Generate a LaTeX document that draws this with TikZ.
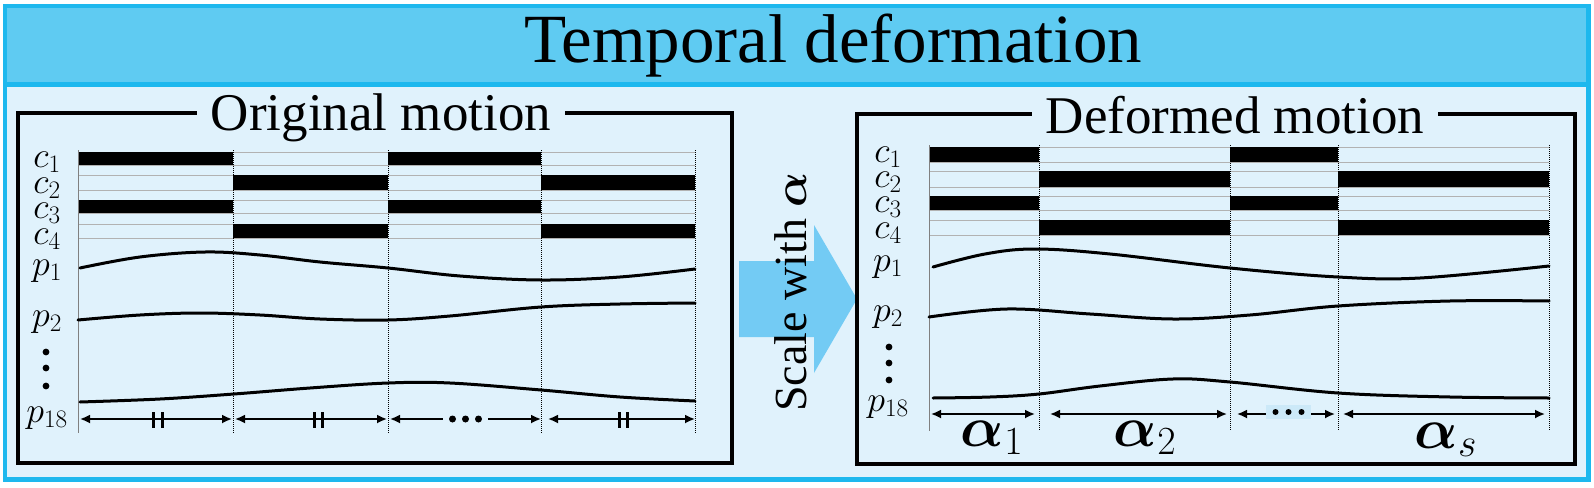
\RequirePackage{fix-cm}
\documentclass[tikz,border=0pt]{standalone}
\usepackage{amsmath,bm}
\usepackage[no-math]{fontspec}
\setmainfont{Liberation Serif}
\usetikzlibrary{arrows.meta}
\definecolor{borderc}{HTML}{1DB8EE}
\definecolor{titlec}{HTML}{5FCBF2}
\definecolor{bodyc}{HTML}{E0F2FC}
\definecolor{arrowc}{HTML}{73CBF4}
\definecolor{dotboxc}{HTML}{CCE9F8}
\begin{document}
\begin{tikzpicture}[x=1pt,y=-1pt,
  gridline/.style={draw=black!30, line width=0.6pt},
  firstline/.style={draw=black!50, line width=0.7pt},
  sepline/.style={draw=black, line width=1pt, dash pattern=on 1pt off 1pt},
  curve/.style={line width=3pt, line cap=round},
  dimline/.style={{Latex[length=10pt,width=9pt]}-{Latex[length=10pt,width=9pt]}, line width=1.8pt},
  tickmark/.style={line width=3pt},
  lab/.style={font=\fontsize{36}{36}\selectfont, anchor=base, inner sep=0pt},
  paneltitle/.style={fill=bodyc, inner xsep=14pt, inner ysep=2pt, font=\fontsize{53}{53}\selectfont, anchor=base},
  alab/.style={font=\fontsize{57}{57}\selectfont, anchor=base, inner sep=0pt},
  panel/.style={draw=black, line width=3.5pt}
]
\path[use as bounding box] (0,0) rectangle (1594,487);
\fill[white] (0,0) rectangle (1594,487);
% frame
\fill[bodyc] (5,6) rectangle (1588.5,479.5);
\fill[titlec] (5,6) rectangle (1588.5,84.5);
\draw[borderc, line width=5pt] (5,84.5) -- (1588.5,84.5);
\draw[borderc, line width=4.5pt] (5,6) rectangle (1588.5,479.5);
\node[font=\fontsize{69}{69}\selectfont, anchor=base, inner sep=0pt] (title) at (833,63) {Temporal deformation};

% ---------------- left panel
\draw[panel] (18,113) rectangle (732,463);
\node[paneltitle] (ltitle) at (381,130) {Original motion};
\foreach \t/\b in {152/165,175/190,200/213,224/238}{
  \draw[gridline] (78,\t) -- (695,\t);
  \draw[gridline] (78,\b) -- (695,\b);
}
\fill (78,152) rectangle (233,165);
\fill (388,152) rectangle (541,165);
\fill (233,175) rectangle (388,190);
\fill (541,175) rectangle (695,190);
\fill (78,200) rectangle (233,213);
\fill (388,200) rectangle (541,213);
\fill (233,224) rectangle (388,238);
\fill (541,224) rectangle (695,238);
\draw[firstline] (78,150) -- (78,433);
\foreach \x in {233,388,541,695}{ \draw[sepline] (\x,150) -- (\x,433); }
\draw[curve] plot[smooth, tension=0.6] coordinates {(80,268) (140,257) (205,252) (260,255) (320,262) (388,268) (460,276) (541,280) (620,277) (695,269)};
\draw[curve] plot[smooth, tension=0.6] coordinates {(78,320) (140,315) (200,313) (260,315) (320,319) (388,320) (450,316) (541,307) (620,304) (695,303)};
\draw[curve] plot[smooth, tension=0.6] coordinates {(80,402) (160,399) (234,394) (310,388) (388,383) (450,383) (541,390) (620,397) (695,401)};
\node[lab] (lc1) at (47,167) {$c_1$};
\node[lab] (lc2) at (47,193) {$c_2$};
\node[lab] (lc3) at (47,218) {$c_3$};
\node[lab] (lc4) at (47,244) {$c_4$};
\node[lab] (lp1) at (47,275) {$p_1$};
\node[lab] (lp2) at (47,326) {$p_2$};
\node[lab] (lp18) at (47,422) {$p_{18}$};
\foreach \y in {352,368,386}{ \fill (46,\y) circle (3.4pt); }
\coordinate (la0) at (78,419);
\coordinate (la1) at (233,419);
\coordinate (la2) at (388,419);
\coordinate (la3) at (541,419);
\coordinate (la4) at (695,419);
\draw[dimline, shorten <=2pt, shorten >=1pt] (la0) -- (la1);
\draw[dimline, shorten <=2pt, shorten >=1pt] (la1) -- (la2);
\draw[dimline, shorten <=2pt, shorten >=0pt] (la2) -- (la3);
\draw[dimline, shorten <=7pt, shorten >=0pt] (la3) -- (la4);
\foreach \x in {153.5,162.5,314,322,619.5,627.5}{ \draw[tickmark] (\x,412) -- (\x,428); }
\node[fill=bodyc, minimum width=45pt, minimum height=14pt, inner sep=0pt] (ldots) at (465.5,419) {};
\foreach \x in {-13,0,13}{ \fill ([xshift=\x pt]ldots.center) circle (3.5pt); }

% ---------------- block arrow
\fill[arrowc] (739,261) -- (814,261) -- (814,225) -- (857,299) -- (814,373) -- (814,337) -- (739,337) -- cycle;
\node[rotate=90, anchor=base, font=\fontsize{46}{46}\selectfont, inner sep=0pt] (scale) at (806,292) {Scale with $\bm{\alpha}$};

% ---------------- right panel
\draw[panel] (857,114) rectangle (1575,464);
\node[paneltitle] (rtitle) at (1235,133) {Deformed motion};
\foreach \t/\b in {147/162,171/187,196/210,220/235}{
  \draw[gridline] (929,\t) -- (1549,\t);
  \draw[gridline] (929,\b) -- (1549,\b);
}
\fill (929,147) rectangle (1039,162);
\fill (1230,147) rectangle (1338,162);
\fill (1039,171) rectangle (1230,187);
\fill (1338,171) rectangle (1549,187);
\fill (929,196) rectangle (1039,210);
\fill (1230,196) rectangle (1338,210);
\fill (1039,220) rectangle (1230,235);
\fill (1338,220) rectangle (1549,235);
\draw[firstline] (929,145) -- (929,431);
\foreach \x in {1039,1230,1338,1549}{ \draw[sepline] (\x,145) -- (\x,431); }
\draw[curve] plot[smooth, tension=0.6] coordinates {(933,267) (985,254) (1035,249) (1110,254) (1230,268) (1338,277) (1420,278) (1549,266)};
\draw[curve] plot[smooth, tension=0.6] coordinates {(929,317) (1007,309) (1090,314) (1173,319) (1250,315) (1338,306) (1450,301) (1549,301)};
\draw[curve] plot[smooth, tension=0.6] coordinates {(933,398) (990,397) (1039,394) (1100,386) (1173,379) (1230,382) (1338,393) (1450,397) (1549,398)};
\node[lab] (rc1) at (888,162) {$c_1$};
\node[lab] (rc2) at (888,187) {$c_2$};
\node[lab] (rc3) at (888,212) {$c_3$};
\node[lab] (rc4) at (888,238) {$c_4$};
\node[lab] (rp1) at (888,271) {$p_1$};
\node[lab] (rp2) at (888,321) {$p_2$};
\node[lab] (rp18) at (888,411) {$p_{18}$};
\foreach \y in {347,363,380}{ \fill (889,\y) circle (3.4pt); }
\coordinate (ra0) at (929,414);
\coordinate (ra1) at (1039,414);
\coordinate (ra2) at (1230,414);
\coordinate (ra3) at (1338,414);
\coordinate (ra4) at (1549,414);
\draw[dimline, shorten <=2pt, shorten >=4pt] (ra0) -- (ra1);
\draw[dimline, shorten <=11pt, shorten >=3pt] (ra1) -- (ra2);
\draw[dimline, shorten <=7pt, shorten >=3pt] (ra2) -- (ra3);
\draw[dimline, shorten <=5pt, shorten >=4pt] (ra3) -- (ra4);
\node[fill=dotboxc, minimum width=45pt, minimum height=14pt, inner sep=0pt] (rdots) at (1288.5,412) {};
\foreach \x in {-13,0,13}{ \fill ([xshift=\x pt]rdots.center) circle (3pt); }
\node[alab] (a1) at (992,446) {$\bm{\alpha}_1$};
\node[alab] (a2) at (1145,446) {$\bm{\alpha}_2$};
\node[alab] (as) at (1446,448) {$\bm{\alpha}_s$};
\end{tikzpicture}
\end{document}
